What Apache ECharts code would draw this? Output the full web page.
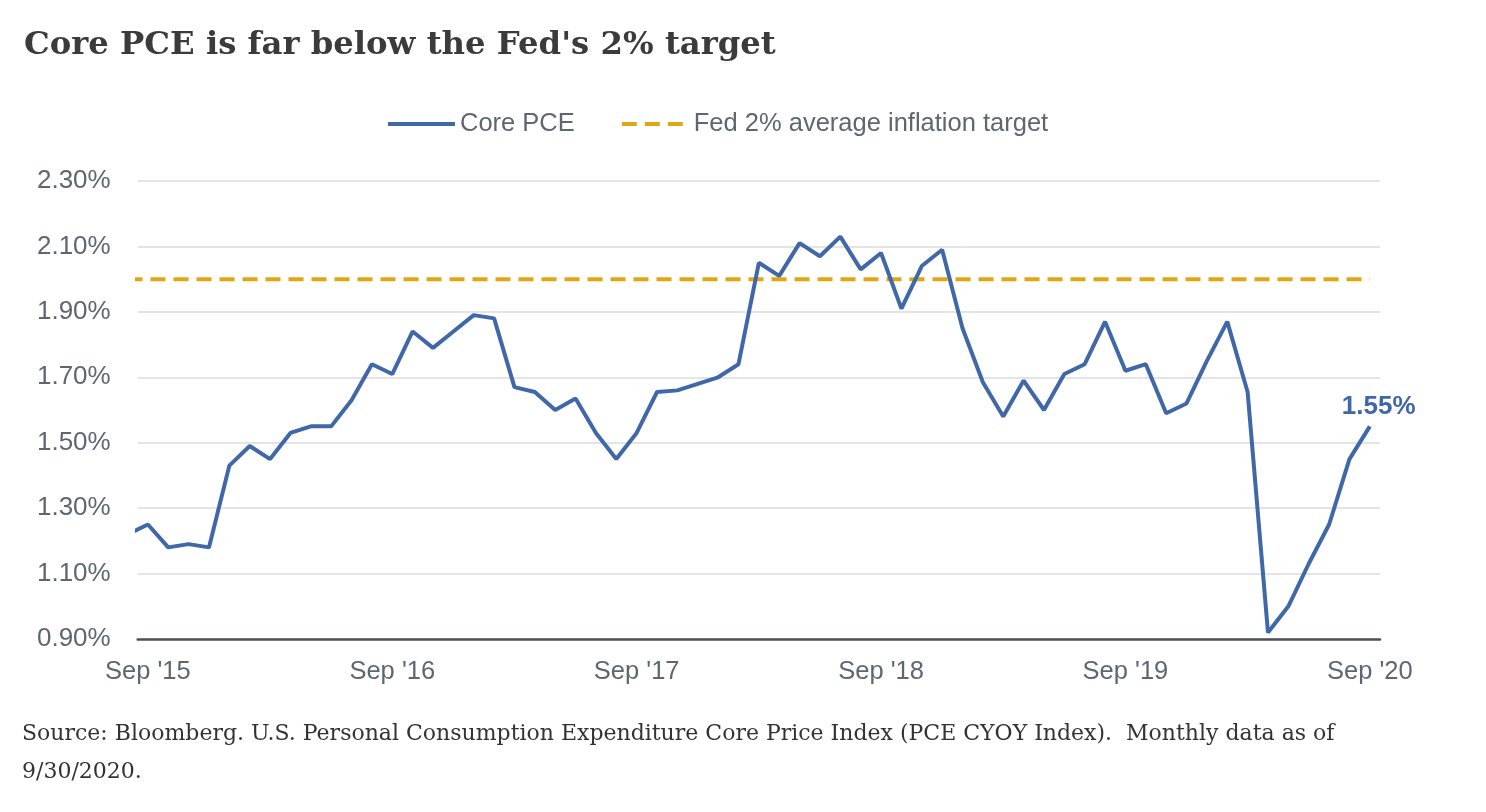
<!DOCTYPE html>
<html>
<head>
<meta charset="utf-8">
<script src="https://cdn.jsdelivr.net/npm/echarts@6/dist/echarts.min.js"></script>
<style>
  html, body { margin: 0; padding: 0; background: #ffffff; }
  #chart { width: 1486px; height: 812px; }
</style>
</head>
<body>
<div id="chart"></div>
<script>
// Monthly categories (Aug '15 lead-in month is only partly visible at the left edge)
const months = [
  "Aug '15",
  "Sep '15","Oct '15","Nov '15","Dec '15","Jan '16","Feb '16","Mar '16","Apr '16","May '16","Jun '16","Jul '16","Aug '16",
  "Sep '16","Oct '16","Nov '16","Dec '16","Jan '17","Feb '17","Mar '17","Apr '17","May '17","Jun '17","Jul '17","Aug '17",
  "Sep '17","Oct '17","Nov '17","Dec '17","Jan '18","Feb '18","Mar '18","Apr '18","May '18","Jun '18","Jul '18","Aug '18",
  "Sep '18","Oct '18","Nov '18","Dec '18","Jan '19","Feb '19","Mar '19","Apr '19","May '19","Jun '19","Jul '19","Aug '19",
  "Sep '19","Oct '19","Nov '19","Dec '19","Jan '20","Feb '20","Mar '20","Apr '20","May '20","Jun '20","Jul '20","Aug '20",
  "Sep '20"
];

// Core PCE, year-over-year %
const corePCE = [
  1.22,
  1.25, 1.18, 1.19, 1.18, 1.43, 1.49, 1.45, 1.53, 1.55, 1.55, 1.63, 1.74,
  1.71, 1.84, 1.79, 1.84, 1.89, 1.88, 1.67, 1.655, 1.60, 1.635, 1.53, 1.45,
  1.53, 1.655, 1.66, 1.68, 1.70, 1.74, 2.05, 2.01, 2.11, 2.07, 2.13, 2.03,
  2.08, 1.91, 2.04, 2.09, 1.85, 1.685, 1.58, 1.69, 1.60, 1.71, 1.74, 1.87,
  1.72, 1.74, 1.59, 1.62, 1.75, 1.87, 1.655, 0.92, 1.00, 1.13, 1.25, 1.45,
  1.55
];

const fedTargetRate = 2.0;

// Axis ticks
const xTickLabels = ["Sep '15", "Sep '16", "Sep '17", "Sep '18", "Sep '19", "Sep '20"];
const yTicks = [0.90, 1.10, 1.30, 1.50, 1.70, 1.90, 2.10, 2.30];

const titleText = "Core PCE is far below the Fed's 2% target";
const sourceText = "Source: Bloomberg. U.S. Personal Consumption Expenditure Core Price Index (PCE CYOY Index).  Monthly data as of\n9/30/2020.";

const xTickValues = xTickLabels.map(l => months.indexOf(l));

const pceData = corePCE.map((v, i) => [i, v]);
const targetData = months.map((m, i) => [i, fedTargetRate]);

const chart = echarts.init(document.getElementById('chart'), null, { renderer: 'canvas' });

const axisFont = 'Liberation Sans, Arial, sans-serif';
const labelColor = '#5e6771';
const blue = '#4068A9';
const gold = '#E2A614';

chart.setOption({
  animation: false,
  backgroundColor: '#ffffff',
  title: [
    {
      text: titleText,
      left: 19,
      top: 25,
      textStyle: {
        fontFamily: 'DejaVu Serif, Georgia, serif',
        fontWeight: 'bold',
        fontSize: 32.3,
        color: '#3b3b3b'
      }
    },
    {
      text: sourceText,
      left: 17,
      top: 710,
      textStyle: {
        fontFamily: 'DejaVu Serif, Georgia, serif',
        fontWeight: 'normal',
        fontSize: 22,
        lineHeight: 38,
        color: '#333333'
      }
    }
  ],
  legend: {
    left: 381,
    top: 106,
    itemWidth: 67,
    itemHeight: 2,
    itemGap: 45,
    lineStyle: { width: 4 },
    textStyle: {
      fontFamily: axisFont,
      fontSize: 25.5,
      color: labelColor
    },
    data: ['Core PCE', 'Fed 2% average inflation target']
  },
  grid: {
    left: 137.7,
    right: 106,
    top: 181,
    bottom: 173,
    containLabel: false
  },
  xAxis: {
    type: 'value',
    min: 0.5,
    max: months.length - 0.5,
    axisLine: { show: true, lineStyle: { color: '#4b5159', width: 2.5 } },
    axisTick: { show: false, customValues: xTickValues },
    splitLine: { show: false },
    axisLabel: {
      customValues: xTickValues,
      formatter: v => months[Math.round(v)],
      fontFamily: axisFont,
      fontSize: 25.5,
      color: labelColor,
      margin: 20
    }
  },
  yAxis: {
    type: 'value',
    min: yTicks[0],
    max: yTicks[yTicks.length - 1],
    axisLine: { show: false },
    axisTick: { show: false, customValues: yTicks },
    splitLine: { show: true, lineStyle: { color: '#e4e4e4', width: 2 } },
    axisLabel: {
      customValues: yTicks,
      formatter: v => v.toFixed(2) + '%',
      fontFamily: axisFont,
      fontSize: 26,
      color: labelColor,
      margin: 27
    }
  },
  series: [
    {
      name: 'Core PCE',
      type: 'line',
      data: pceData,
      symbol: 'none',
      clip: true,
      lineStyle: { color: blue, width: 4 },
      itemStyle: { color: blue },
      endLabel: {
        show: true,
        formatter: p => p.value[1].toFixed(2) + '%',
        offset: [-36, -20],
        color: blue,
        fontFamily: axisFont,
        fontWeight: 'bold',
        fontSize: 26
      },
      z: 3
    },
    {
      name: 'Fed 2% average inflation target',
      type: 'line',
      data: targetData,
      symbol: 'none',
      clip: true,
      lineStyle: { color: gold, width: 4, type: [15, 8] },
      itemStyle: { color: gold },
      z: 2
    }
  ]
});
</script>
</body>
</html>
